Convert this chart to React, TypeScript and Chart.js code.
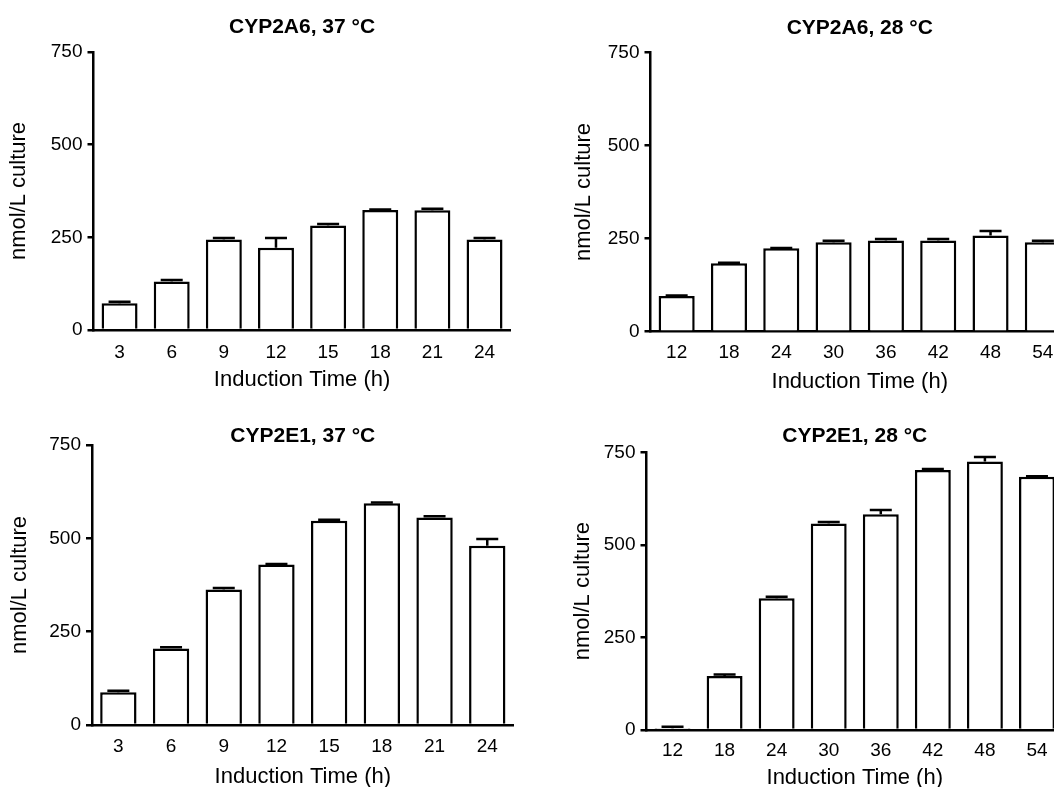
import React, { useEffect, useRef } from "react";
import { Chart, registerables } from "chart.js";

Chart.register(...registerables);

const FONT = '"Liberation Sans", Arial, Helvetica, sans-serif';

// ---- data ----
const panelTitles = ["CYP2A6, 37 °C", "CYP2A6, 28 °C", "CYP2E1, 37 °C", "CYP2E1, 28 °C"];
const times37 = ["3", "6", "9", "12", "15", "18", "21", "24"];
const times28 = ["12", "18", "24", "30", "36", "42", "48", "54"];

const cyp2a6At37 = [72, 131, 244, 222, 282, 324, 323, 244];
const cyp2a6At37Err = [4, 4, 4, 26, 4, 1, 4, 4];

const cyp2a6At28 = [96, 184, 224, 240, 245, 245, 258, 240];
const cyp2a6At28Err = [1, 1, 1, 4, 4, 4, 12, 4];

const cyp2e1At37 = [88, 205, 363, 430, 547, 594, 556, 480];
const cyp2e1At37Err = [4, 3, 4, 1, 3, 2, 3, 18];

const cyp2e1At28 = [5, 146, 356, 558, 583, 702, 725, 684];
const cyp2e1At28Err = [4, 4, 4, 4, 11, 3, 12, 1];

const yTickValues = [0, 250, 500, 750];
const yAxisTitle = "nmol/L culture";
const xAxisTitle = "Induction Time (h)";

// ---- layout (page coordinates) ----
type Panel = {
  title: string;
  labels: string[];
  values: number[];
  errors: number[];
  x: number; y: number; w: number; h: number;
  left: number; top: number; right: number; bottom: number;
  titleY: number; xLabelY: number; xTitleY: number; yTitleX: number;
};

const panels: Panel[] = [
  {
    title: panelTitles[0], labels: times37, values: cyp2a6At37, errors: cyp2a6At37Err,
    x: 0, y: 0, w: 520, h: 400,
    left: 93.5, top: 52, right: 510.6, bottom: 330,
    titleY: 27.5, xLabelY: 353, xTitleY: 380, yTitleX: 19,
  },
  {
    title: panelTitles[1], labels: times28, values: cyp2a6At28, errors: cyp2a6At28Err,
    x: 520, y: 0, w: 560, h: 400,
    left: 650.5, top: 52.3, right: 1069, bottom: 331.7,
    titleY: 28.3, xLabelY: 352.5, xTitleY: 382, yTitleX: 584,
  },
  {
    title: panelTitles[2], labels: times37, values: cyp2e1At37, errors: cyp2e1At37Err,
    x: 0, y: 400, w: 520, h: 400,
    left: 92, top: 445, right: 513.6, bottom: 725,
    titleY: 436, xLabelY: 747, xTitleY: 777, yTitleX: 20,
  },
  {
    title: panelTitles[3], labels: times28, values: cyp2e1At28, errors: cyp2e1At28Err,
    x: 520, y: 400, w: 560, h: 400,
    left: 646.5, top: 452.3, right: 1063, bottom: 730,
    titleY: 436, xLabelY: 750.5, xTitleY: 778, yTitleX: 583,
  },
];

const errorBarPlugin = {
  id: "errorBars",
  afterDatasetsDraw(chart: any, _args: any, opts: any) {
    const { ctx } = chart;
    const yScale = chart.scales.y;
    const meta = chart.getDatasetMeta(0);
    const values = chart.data.datasets[0].data as number[];
    const errs: number[] = opts.errors || [];
    ctx.save();
    ctx.strokeStyle = "#000";
    ctx.lineWidth = 2.5;
    meta.data.forEach((bar: any, i: number) => {
      const e = errs[i];
      if (!e) return;
      const v = values[i];
      const yTop = yScale.getPixelForValue(v + e);
      const yVal = yScale.getPixelForValue(v);
      const x = bar.x;
      ctx.beginPath();
      ctx.moveTo(x, yVal);
      ctx.lineTo(x, yTop);
      ctx.moveTo(x - opts.cap, yTop);
      ctx.lineTo(x + opts.cap, yTop);
      ctx.stroke();
    });
    ctx.restore();
  },
};

function makeConfig(p: Panel): any {
  const lh = 1.2;
  const titleSize = 21;
  const tickSize = 19;
  const axisTitleSize = 22;

  const yWidth = p.left - p.x;
  const xHeight = p.y + p.h - p.bottom;
  const topSpace = p.top - p.y;
  const padRight = p.x + p.w - p.right;

  const tLH = titleSize * lh;
  const tPadTop = p.titleY - p.y - tLH / 2;
  const tPadBottom = topSpace - tLH - tPadTop;

  const xTickPad = p.xLabelY - p.bottom - (tickSize * lh) / 2;
  const xTitlePad = p.y + p.h - p.xTitleY - (axisTitleSize * lh) / 2;
  const yTitlePad = p.yTitleX - p.x - (axisTitleSize * lh) / 2;

  return {
    type: "bar",
    data: {
      labels: p.labels,
      datasets: [
        {
          data: p.values,
          backgroundColor: "#ffffff",
          borderColor: "#000000",
          borderWidth: 2.5,
          barPercentage: 0.69,
          categoryPercentage: 1,
        },
      ],
    },
    options: {
      responsive: false,
      animation: false,
      devicePixelRatio: 1,
      layout: { padding: { left: 0, top: 0, right: padRight, bottom: 0 } },
      plugins: {
        legend: { display: false },
        tooltip: { enabled: false },
        title: {
          display: true,
          text: p.title,
          fullSize: false,
          color: "#000",
          font: { family: FONT, size: titleSize, weight: "bold", lineHeight: lh },
          padding: { top: tPadTop, bottom: tPadBottom },
        },
        errorBars: { errors: p.errors, cap: 11 },
      },
      scales: {
        x: {
          type: "category",
          offset: true,
          grid: { display: false, drawTicks: false },
          border: { display: true, color: "#000", width: 2.5 },
          ticks: {
            color: "#000",
            padding: xTickPad,
            maxRotation: 0,
            autoSkip: false,
            font: { family: FONT, size: tickSize, lineHeight: lh },
          },
          title: {
            display: true,
            text: xAxisTitle,
            color: "#000",
            font: { family: FONT, size: axisTitleSize, lineHeight: lh },
            padding: { top: 0, bottom: xTitlePad },
          },
          afterFit: (scale: any) => {
            scale.height = xHeight;
          },
        },
        y: {
          min: 0,
          max: 750,
          afterBuildTicks: (scale: any) => {
            scale.ticks = yTickValues.map((v) => ({ value: v }));
          },
          grid: {
            display: true,
            drawOnChartArea: false,
            drawTicks: true,
            tickLength: 6,
            color: "#000",
            lineWidth: 2.5,
          },
          border: { display: true, color: "#000", width: 2.5 },
          ticks: {
            color: "#000",
            padding: 5,
            font: { family: FONT, size: tickSize, lineHeight: lh },
          },
          title: {
            display: true,
            text: yAxisTitle,
            color: "#000",
            font: { family: FONT, size: axisTitleSize, lineHeight: lh },
            padding: { top: yTitlePad, bottom: 0 },
          },
          afterFit: (scale: any) => {
            scale.width = yWidth;
          },
        },
      },
    },
    plugins: [errorBarPlugin],
  };
}

function PanelChart({ p }: { p: Panel }) {
  const ref = useRef<HTMLCanvasElement | null>(null);
  useEffect(() => {
    if (!ref.current) return;
    const chart = new Chart(ref.current, makeConfig(p));
    return () => chart.destroy();
  }, [p]);
  return (
    <canvas
      ref={ref}
      width={p.w}
      height={p.h}
      style={{ position: "absolute", left: p.x, top: p.y, width: p.w, height: p.h }}
    />
  );
}

export default function App() {
  return (
    <div
      style={{
        position: "fixed",
        left: 0,
        top: 0,
        width: 1054,
        height: 787,
        overflow: "hidden",
        background: "#fff",
      }}
    >
      {panels.map((p, i) => (
        <PanelChart key={i} p={p} />
      ))}
    </div>
  );
}
